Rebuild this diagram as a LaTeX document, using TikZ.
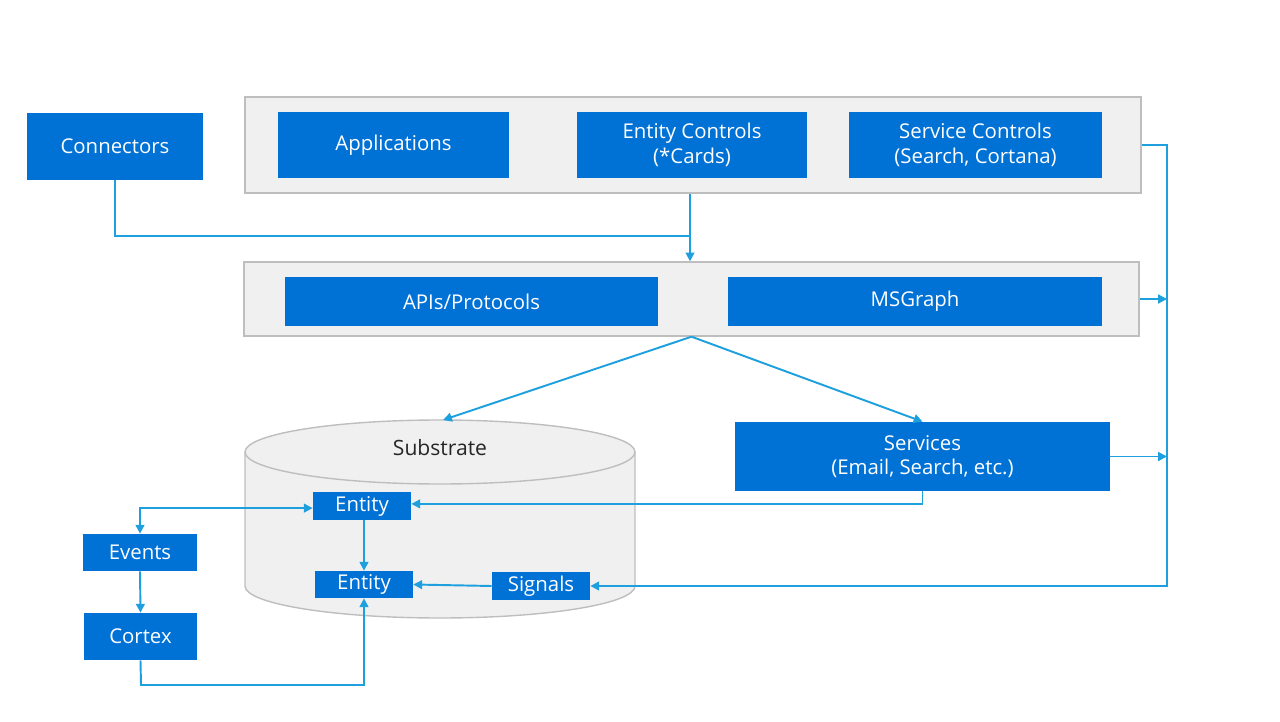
\documentclass[tikz,border=0pt]{standalone}
\usepackage{fontspec}
\setmainfont{Open Sans}
\usetikzlibrary{arrows.meta}
\definecolor{boxblue}{HTML}{0071D5}
\definecolor{linkblue}{HTML}{1EA0DE}
\definecolor{panelfill}{HTML}{F0F0F0}
\definecolor{panelline}{HTML}{BEBEBE}
\begin{document}
\begin{tikzpicture}[x=0.02cm,y=-0.02cm,
  bluebox/.style={fill=boxblue,draw=none,text=white,font=\fontsize{11.6}{14}\selectfont,align=center,inner sep=0pt},
  panel/.style={fill=panelfill,draw=panelline,line width=0.8pt},
  link/.style={draw=linkblue,line width=1.1pt},
  tip/.style={-{Triangle[length=5pt,width=5pt]}},
]
\useasboundingbox (0,0) rectangle (1280,722);
% panels
\node[panel,minimum width=896*0.02cm,minimum height=96*0.02cm,inner sep=0pt] (top) at (693,145) {};
\node[panel,minimum width=895*0.02cm,minimum height=74*0.02cm,inner sep=0pt] (mid) at (691.5,299) {};
% cylinder
\fill[panelfill] (245,452) -- (245,586) arc[start angle=180,end angle=0,x radius=195,y radius=32] -- (635,452) -- cycle;
\draw[panelline,line width=0.8pt] (245,452) -- (245,586) arc[start angle=180,end angle=0,x radius=195,y radius=32] -- (635,452);
\draw[panelline,fill=panelfill,line width=0.8pt] (440,452) ellipse[x radius=195,y radius=32];
\node[font=\fontsize{12}{14}\selectfont,text=black!85] (subst) at (440,448) {Substrate};
\coordinate (substop) at (443,420);
% boxes
\node[bluebox,minimum width=176*0.02cm,minimum height=67*0.02cm] (conn) at (115,146.5) {Connectors};
\node[bluebox,minimum width=231*0.02cm,minimum height=66*0.02cm] (apps) at (393.5,145) {Applications};
\node[bluebox,minimum width=230*0.02cm,minimum height=66*0.02cm] (ectl) at (692,145) {Entity Controls\\(*Cards)};
\node[bluebox,minimum width=253*0.02cm,minimum height=66*0.02cm] (sctl) at (975.5,145) {Service Controls\\(Search, Cortana)};
\node[bluebox,minimum width=373*0.02cm,minimum height=49*0.02cm] (apis) at (471.5,301.5) {APIs/Protocols};
\node[bluebox,minimum width=374*0.02cm,minimum height=49*0.02cm] (msg) at (915,301.5) {MSGraph};
\node[bluebox,minimum width=375*0.02cm,minimum height=69*0.02cm] (serv) at (922.5,456.5) {Services\\(Email, Search, etc.)};
\node[bluebox,minimum width=98*0.02cm,minimum height=28*0.02cm] (ent1) at (362,506) {Entity};
\node[bluebox,minimum width=98*0.02cm,minimum height=27*0.02cm] (ent2) at (364,584.5) {Entity};
\node[bluebox,minimum width=98*0.02cm,minimum height=28*0.02cm] (sig) at (541,586) {Signals};
\node[bluebox,minimum width=114*0.02cm,minimum height=37*0.02cm] (evt) at (140,552.5) {Events};
\node[bluebox,minimum width=113*0.02cm,minimum height=47*0.02cm] (ctx) at (140.5,636.5) {Cortex};
% connectors
\coordinate (j1) at (690,236);
\coordinate (bus) at (1167,145);
\draw[link] (conn.south) |- (j1);
\draw[link,tip] (top.south -| j1) -- (mid.north -| j1);
\draw[link,tip] (mid.south) -- (substop);
\draw[link,tip] (mid.south) -- (serv.north);
\draw[link,tip] (top.east |- bus) -- (bus) |- (sig.east);
\draw[link,tip] (mid.east) -- (mid.east -| bus);
\draw[link,tip] (serv.east) -- (serv.east -| bus);
\draw[link,tip] (serv.south) |- ([yshift=1.2pt]ent1.east);
\draw[link,{Triangle[length=5pt,width=5pt]}-{Triangle[length=5pt,width=5pt]}] (evt.north) |- ([yshift=-1.2pt]ent1.west);
\draw[link,tip] (evt.south) -- (ctx.north);
\coordinate (j2) at (141,685);
\draw[link,tip] (ctx.south) -- (j2) -| (ent2.south);
\draw[link,tip] (ent1.south -| ent2.north) -- (ent2.north);
\draw[link,tip] (sig.west) -- (ent2.east);
\end{tikzpicture}
\end{document}
